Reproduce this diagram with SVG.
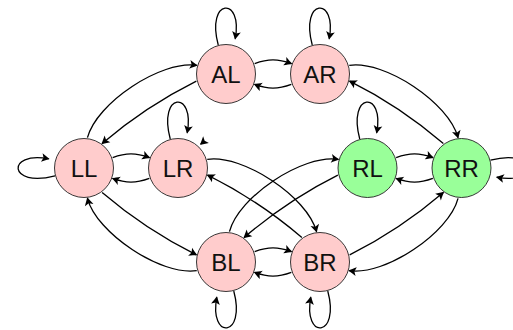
<svg xmlns="http://www.w3.org/2000/svg" width="513" height="330" viewBox="0 0 513 330">
<style>
.n{stroke:#222;stroke-width:0.9}
.p{fill:#ffcccc}
.g{fill:#99ff99}
.t{font-family:"Liberation Sans",Arial,sans-serif;font-size:24px;fill:#111;text-anchor:middle}
.e{fill:none;stroke:#000;stroke-width:1.3;marker-end:url(#ah)}
</style>
<defs>
<marker id="ah" viewBox="-9 -5 10 10" refX="-1" refY="0" markerWidth="10" markerHeight="10" orient="auto" markerUnits="userSpaceOnUse">
<path d="M0,0 C-2.2,-1.1 -5.4,-2.9 -8,-4.4 L-6.2,0 L-8,4.4 C-5.4,2.9 -2.2,1.1 0,0 Z" fill="#000"/>
</marker>
</defs>
<g id="edges">
<path class="e" d="M254.66,63.57 C268.15,58.66 277.85,58.66 291.34,63.57"/>
<path class="e" d="M291.34,84.43 C277.85,89.34 268.15,89.34 254.66,84.43"/>
<path class="e" d="M112.66,157.57 C126.15,152.66 135.85,152.66 149.34,157.57"/>
<path class="e" d="M149.34,178.43 C135.85,183.34 126.15,183.34 112.66,178.43"/>
<path class="e" d="M254.66,251.57 C268.15,246.66 277.85,246.66 291.34,251.57"/>
<path class="e" d="M291.34,272.43 C277.85,277.34 268.15,277.34 254.66,272.43"/>
<path class="e" d="M396.16,157.57 C409.65,152.66 419.35,152.66 432.84,157.57"/>
<path class="e" d="M432.84,178.43 C419.35,183.34 409.65,183.34 396.16,178.43"/>
<path class="e" d="M87.45,137.70 C96.46,102.85 161.16,60.02 196.76,65.34"/>
<path class="e" d="M196.34,81.12 C163.23,97.63 130.27,119.45 102.14,143.48"/>
<path class="e" d="M196.76,270.66 C161.16,275.98 96.46,233.15 87.45,198.30"/>
<path class="e" d="M102.14,192.52 C130.27,216.55 163.23,238.37 196.34,254.88"/>
<path class="e" d="M349.24,65.34 C384.84,60.02 449.04,102.85 458.05,137.70"/>
<path class="e" d="M443.36,143.48 C415.23,119.45 382.77,97.63 349.66,81.12"/>
<path class="e" d="M458.05,198.30 C449.04,233.15 384.84,275.98 349.24,270.66"/>
<path class="e" d="M349.66,254.88 C382.77,238.37 415.23,216.55 443.36,192.52"/>
<path class="e" d="M207.24,159.34 C242.84,154.02 307.54,196.85 316.55,231.70"/>
<path class="e" d="M301.86,237.48 C273.73,213.45 240.77,191.63 207.66,175.12"/>
<path class="e" d="M229.45,231.70 C238.46,196.85 302.66,154.02 338.26,159.34"/>
<path class="e" d="M337.84,175.12 C304.73,191.63 272.27,213.45 244.14,237.48"/>
<path class="e" d="M218.24,45.02 C205.63,-2.02 243.30,-4.14 235.21,38.66"/>
<path class="e" d="M312.24,45.02 C299.63,-2.02 337.30,-4.14 329.21,38.66"/>
<path class="e" d="M170.24,139.02 C157.63,91.98 195.30,89.86 187.21,132.66"/>
<path class="e" d="M359.74,139.02 C347.13,91.98 384.80,89.86 376.71,132.66"/>
<path class="e" d="M233.76,290.98 C246.37,338.02 208.70,340.14 216.79,297.34"/>
<path class="e" d="M327.76,290.98 C340.37,338.02 302.70,340.14 310.79,297.34"/>
<path class="e" d="M55.02,175.76 C7.98,188.37 5.86,150.70 48.66,158.79"/>
<path class="e" d="M490.48,160.24 C537.52,147.63 539.64,185.30 496.84,177.21"/>
<path class="e" d="M201.4,143.5 L200.7,144.1"/>
</g>
<g id="AL"><circle class="n p" cx="226" cy="74" r="29.5"/><text class="t" x="226" y="82.5">AL</text></g>
<g id="AR"><circle class="n p" cx="320" cy="74" r="29.5"/><text class="t" x="320" y="82.5">AR</text></g>
<g id="LL"><circle class="n p" cx="84" cy="168" r="29.5"/><text class="t" x="84" y="176.5">LL</text></g>
<g id="LR"><circle class="n p" cx="178" cy="168" r="29.5"/><text class="t" x="178" y="176.5">LR</text></g>
<g id="RL"><circle class="n g" cx="367.5" cy="168" r="29.5"/><text class="t" x="367.5" y="176.5">RL</text></g>
<g id="RR"><circle class="n g" cx="461.5" cy="168" r="29.5"/><text class="t" x="461.5" y="176.5">RR</text></g>
<g id="BL"><circle class="n p" cx="226" cy="262" r="29.5"/><text class="t" x="226" y="270.5">BL</text></g>
<g id="BR"><circle class="n p" cx="320" cy="262" r="29.5"/><text class="t" x="320" y="270.5">BR</text></g>
</svg>
